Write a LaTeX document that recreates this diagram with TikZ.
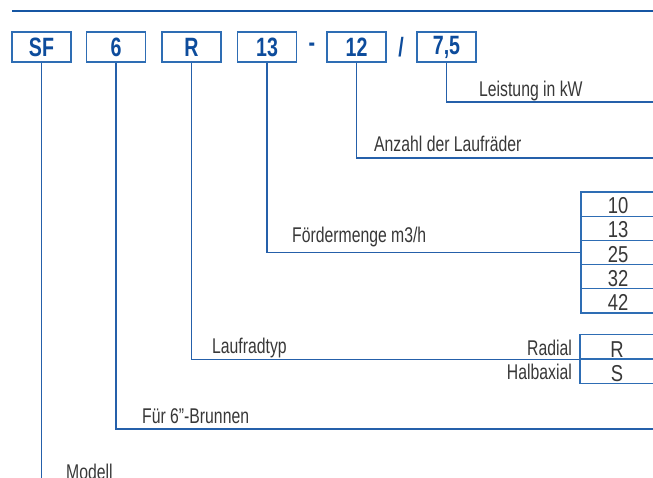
\documentclass[tikz,border=0pt]{standalone}
\usepackage{fontspec}
\setmainfont{Liberation Sans}
\newfontfamily\lblfont{Liberation Sans}[FakeStretch=0.74]
\newfontfamily\codefont{Liberation Sans}[FakeStretch=0.74]
\newfontfamily\cellfont{Liberation Sans}[FakeStretch=0.8]
\definecolor{rulecol}{RGB}{22,86,163}
\definecolor{boxblue}{HTML}{2E6DB4}
\definecolor{txtblue}{HTML}{0D4C9C}
\definecolor{lineblue}{HTML}{2560AA}
\definecolor{txtgray}{HTML}{383838}
\tikzset{
  codebox/.style={draw=boxblue, line width=1.2pt, minimum width=59pt, minimum height=30pt, inner sep=0pt,
    font=\codefont\bfseries\fontsize{26.5}{26.5}\selectfont, text=txtblue},
  sepmark/.style={inner sep=0pt, font=\codefont\bfseries\fontsize{26.5}{26.5}\selectfont, text=txtblue},
  conn/.style={draw=lineblue, line width=1.2pt},
  lbl/.style={anchor=base west, inner sep=0pt, font=\lblfont\fontsize{21.3}{21.3}\selectfont, text=txtgray},
  cell/.style={draw=boxblue, line width=1.2pt, minimum width=74pt, minimum height=24.2pt, inner sep=0pt},
  celltxt/.style={anchor=base, inner sep=0pt, font=\cellfont\fontsize{23}{23}\selectfont, text=txtgray},
}
\begin{document}
\begin{tikzpicture}[x=1pt,y=1pt]
\useasboundingbox[fill=white] (0,0) rectangle (653,477);
\begin{scope}
\clip (0,0) rectangle (653,477);
% code boxes
\node[codebox] (sf) at (41.5,430) {SF};
\node[codebox] (b6) at (116,430) {6};
\node[codebox] (bR) at (191.5,430) {R};
\node[codebox] (b13) at (267,430) {13};
\node[sepmark] (dash) at (312,430) {-};
\node[codebox] (b12) at (356.5,430) {12};
\node[sepmark] (slash) at (401,430) {/};
\node[codebox] (b75) at (446.5,430) {7,5};
% Leistung
\coordinate (e75) at (658,375);
\draw[conn] (b75.south) |- (e75);
\node[lbl] (l75) at (479,380) {Leistung in kW};
% Anzahl
\coordinate (e12) at (658,319);
\draw[conn] (b12.south) |- (e12);
\node[lbl] (l12) at (374,325) {Anzahl der Laufräder};
% Fördermenge table
\node[cell] (t1) at (618,272.9) {};
\node[cell] (t2) at (618,248.7) {};
\node[cell] (t3) at (618,224.5) {};
\node[cell] (t4) at (618,200.3) {};
\node[cell] (t5) at (618,176.1) {};
\node[celltxt] (n1) at ([yshift=3pt]t1.south) {10};
\node[celltxt] (n2) at ([yshift=3pt]t2.south) {13};
\node[celltxt] (n3) at ([yshift=3pt]t3.south) {25};
\node[celltxt] (n4) at ([yshift=3pt]t4.south) {32};
\node[celltxt] (n5) at ([yshift=3pt]t5.south) {42};
\draw[conn] (b13.south) |- (t3.west);
\node[lbl] (l13) at (292,234) {Fördermenge m3/h};
% Laufradtyp table
\node[cell, minimum height=24.5pt] (r1) at (617,130.3) {};
\node[cell, minimum height=24pt] (r2) at (617,105.8) {};
\node[celltxt] (rr) at ([yshift=2pt]r1.south) {R};
\node[celltxt] (rsx) at ([yshift=2pt]r2.south) {S};
\draw[conn] (bR.south) |- (r1.south west);
\node[lbl] (lR) at (212,124) {Laufradtyp};
\node[lbl, anchor=base east] (lrad) at (572,122) {Radial};
\node[lbl, anchor=base east] (lhalb) at (572,98) {Halbaxial};
% 6" Brunnen
\coordinate (e6) at (658,48);
\draw[conn] (b6.south) |- (e6);
\node[lbl] (l6) at (142,54) {Für 6”-Brunnen};
% Modell
\coordinate (esf) at (42,-5);
\draw[conn] (sf.south) -- (sf.south |- esf);
\node[lbl] (lsf) at (66,-2) {Modell};
\end{scope}
% top rule, drawn last
\draw[draw=rulecol, line width=2.6pt] (12,466) -- (653,466);
\end{tikzpicture}
\end{document}
